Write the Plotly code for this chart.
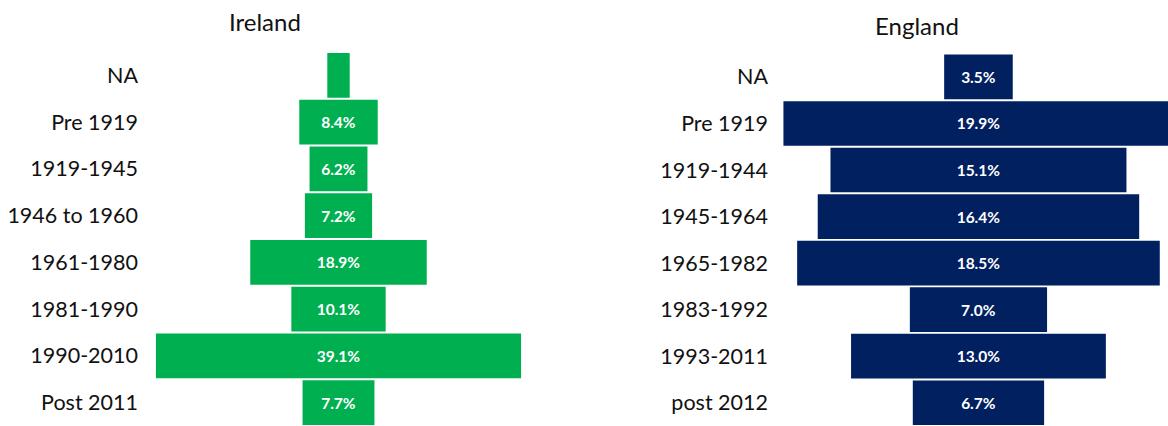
import plotly.graph_objects as go

# Share of dwellings by construction period (%)
ireland_periods = ["NA", "Pre 1919", "1919-1945", "1946 to 1960", "1961-1980",
                   "1981-1990", "1990-2010", "Post 2011"]
ireland_share = [2.4, 8.4, 6.2, 7.2, 18.9, 10.1, 39.1, 7.7]
ireland_labels = ["", "8.4%", "6.2%", "7.2%", "18.9%", "10.1%", "39.1%", "7.7%"]

england_periods = ["NA", "Pre 1919", "1919-1944", "1945-1964", "1965-1982",
                   "1983-1992", "1993-2011", "post 2012"]
england_share = [3.5, 19.9, 15.1, 16.4, 18.5, 7.0, 13.0, 6.7]
england_labels = ["3.5%", "19.9%", "15.1%", "16.4%", "18.5%", "7.0%", "13.0%", "6.7%"]

W, H = 1168, 426
GREEN = "#00B050"
NAVY = "#002060"
FONT = "Lato"
INK = "#111111"

fig = go.Figure()

fig.add_trace(go.Funnel(
    y=ireland_periods, x=ireland_share, text=ireland_labels,
    texttemplate="%{text}", textposition="inside", insidetextanchor="middle",
    textfont=dict(color="white", size=15.5, family=FONT, weight="bold"),
    marker=dict(color=GREEN, line=dict(width=0)),
    connector=dict(visible=False),
    xaxis="x", yaxis="y", hoverinfo="skip", showlegend=False,
))

fig.add_trace(go.Funnel(
    y=england_periods, x=england_share, text=england_labels,
    texttemplate="%{text}", textposition="inside", insidetextanchor="middle",
    textfont=dict(color="white", size=15.5, family=FONT, weight="bold"),
    marker=dict(color=NAVY, line=dict(width=0)),
    connector=dict(visible=False),
    xaxis="x2", yaxis="y2", hoverinfo="skip", showlegend=False,
))

hidden_x = dict(visible=False, showgrid=False, zeroline=False, fixedrange=True)
cat_y = dict(type="category", autorange="reversed", showgrid=False,
             zeroline=False, showline=False, ticks="", ticklabelstandoff=6,
             tickfont=dict(family=FONT, size=21.5, color=INK))

fig.update_layout(
    width=W, height=H,
    margin=dict(l=0, r=0, t=0, b=0),
    paper_bgcolor="white", plot_bgcolor="white",
    funnelgap=0.04,
    uniformtext=dict(minsize=8, mode=False),
    xaxis=dict(domain=[145 / W, 532 / W], range=[-20.72, 20.72], **hidden_x),
    yaxis=dict(domain=[0, 0.878], anchor="x", categoryarray=ireland_periods, **cat_y),
    xaxis2=dict(domain=[775 / W, 1.0], range=[-10.38, 9.67], anchor="y2", **hidden_x),
    yaxis2=dict(domain=[0, 0.874], anchor="x2", categoryarray=england_periods, **cat_y),
    annotations=[
        dict(text="Ireland", x=265 / W, y=1 - 22 / H, xref="paper", yref="paper",
             xanchor="center", yanchor="middle", showarrow=False,
             font=dict(family=FONT, size=24, color=INK)),
        dict(text="England", x=917 / W, y=1 - 26 / H, xref="paper", yref="paper",
             xanchor="center", yanchor="middle", showarrow=False,
             font=dict(family=FONT, size=24, color=INK)),
    ],
)

fig.write_html("out.html")
